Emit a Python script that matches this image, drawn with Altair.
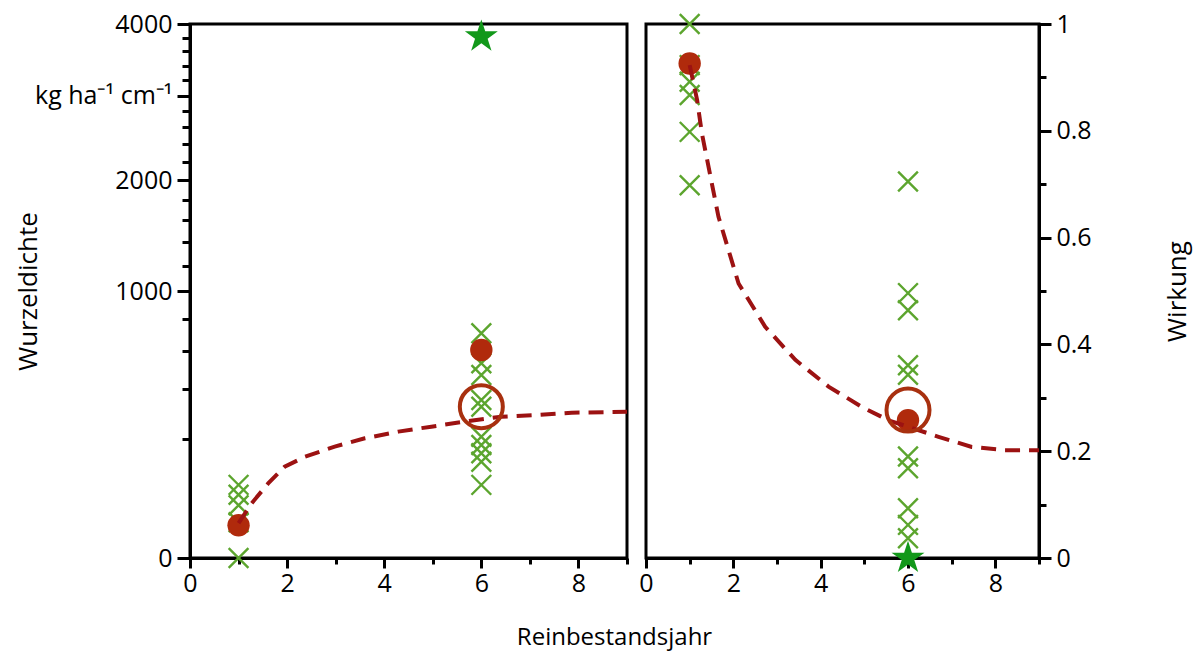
import altair as alt
import pandas as pd

FONT = "Open Sans"
GREEN_X = "#5ca52e"
GREEN_STAR = "#12981a"
RED_DOT = "#b02a0c"
RED_LINE = "#9c1212"
RED_CIRCLE = "#a8300f"

# ---------------- data: left panel (Wurzeldichte, kg ha-1 cm-1) ----------------
left_x_year = [1, 1, 1, 1, 1, 6, 6, 6, 6, 6, 6, 6, 6, 6, 6]
left_x_val = [0, 18, 39, 56, 75, 708, 532, 470, 350, 321, 206, 179, 154, 130, 75]
left_star_year = [6]
left_star_val = [3812]
left_dot_year = [1, 6]
left_dot_val = [15, 607]
left_circle_year = [6]
left_circle_val = [321]
left_curve_year = [1.0, 1.27, 1.61, 1.95, 2.37, 2.98, 3.60, 4.29, 4.97, 5.66, 6.41, 7.17, 7.86, 9.0]
left_curve_val = [17, 42, 78, 117, 144, 174, 201, 224, 242, 261, 280, 287, 296, 300]

# ---------------- data: right panel (Wirkung) ----------------
right_x_year = [1, 1, 1, 1, 1, 1, 6, 6, 6, 6, 6, 6, 6, 6, 6, 6]
right_x_val = [1.0, 0.923, 0.892, 0.867, 0.798, 0.698,
               0.705, 0.496, 0.464, 0.361, 0.343, 0.190, 0.168, 0.093, 0.062, 0.037]
right_star_year = [6]
right_star_val = [0.0]
right_dot_year = [1, 6]
right_dot_val = [0.926, 0.258]
right_circle_year = [6]
right_circle_val = [0.277]
right_curve_year = [1.0, 1.17, 1.28, 1.66, 2.12, 2.73, 3.42, 4.18, 4.94, 5.55, 6.70, 7.46, 8.21, 9.0]
right_curve_val = [0.923, 0.858, 0.795, 0.639, 0.514, 0.433, 0.371, 0.321, 0.283, 0.258, 0.227, 0.208, 0.202, 0.202]

# axis tick values
x_ticks = [0, 1, 2, 3, 4, 5, 6, 7, 8, 9]
yl_major_ticks = [0, 1000, 2000, 3000, 4000]
yl_minor_ticks = list(range(0, 4001, 200))
yr_ticks = [0, 0.1, 0.2, 0.3, 0.4, 0.5, 0.6, 0.7, 0.8, 0.9, 1]

W_L, W_R, H = 437, 393, 534
LABEL_FS = 25


def df(xs, ys):
    return pd.DataFrame({"year": xs, "v": ys})


X_SCALE = alt.Scale(domain=[0, 9], nice=False, zero=False)
YL_SCALE = alt.Scale(type="sqrt", domain=[0, 4000], nice=False)
YR_SCALE = alt.Scale(domain=[0, 1], nice=False)

common = dict(tickColor="black", domainColor="black", domainWidth=3, tickWidth=3,
              labelFontSize=LABEL_FS, labelColor="black", labelFont=FONT, grid=False,
              labelOverlap=False, labelFlush=False)
title_common = dict(titleFontWeight="normal", titleFont=FONT, titleColor="black")

x_tick_size = {"condition": {"test": "datum.value % 2 == 0", "value": 10}, "value": 6}
X_AXIS_L = alt.Axis(orient="bottom", values=x_ticks, tickSize=x_tick_size, labelPadding=3,
                    labelExpr="datum.value % 2 == 0 ? '' + datum.value : ''",
                    title="Reinbestandsjahr", titleFontSize=24, titleX=424, titleY=86,
                    titleBaseline="alphabetic", titleAlign="center", **title_common, **common)
X_AXIS_R = alt.Axis(orient="bottom", values=x_ticks, tickSize=x_tick_size, labelPadding=3,
                    labelExpr="datum.value % 2 == 0 ? '' + datum.value : ''",
                    title=None, **common)

Y_AXIS_L = alt.Axis(orient="left", values=yl_major_ticks, tickSize=13, labelPadding=5,
                    labelExpr="datum.value == 3000 ? 'kg ha⁻¹ cm⁻¹' : '' + datum.value",
                    title="Wurzeldichte", titleFontSize=26, titleX=-162, titleY=267,
                    titleAngle=270, titleBaseline="middle", titleAlign="center",
                    **title_common, **common)
Y_MINOR_L = alt.Axis(orient="left", values=yl_minor_ticks, tickSize=8, tickWidth=3,
                     tickColor="black", domain=False, labels=False, grid=False, title=None)

Y_AXIS_R = alt.Axis(orient="right", values=yr_ticks,
                    tickSize={"condition": {"test": "round(datum.value * 10) % 2 == 0", "value": 12}, "value": 7},
                    labelPadding=5,
                    labelExpr="round(datum.value * 10) % 2 == 0 ? format(datum.value, '~g') : ''",
                    title="Wirkung", titleFontSize=26, titleX=138, titleY=267,
                    titleAngle=270, titleBaseline="middle", titleAlign="center",
                    **title_common, **common)

XSHAPE = "M-1,-1L1,1M-1,1L1,-1"
STARSHAPE = ("M0,-1L0.225,-0.309L0.951,-0.309L0.363,0.118L0.588,0.809L0,0.382"
             "L-0.588,0.809L-0.363,0.118L-0.951,-0.309L-0.225,-0.309Z")


def panel(yscale, x_axis, y_axis, y_minor, xd, dotd, lined, circd, stard, width):
    other_y = alt.Undefined if y_minor is None else None
    xmark = alt.Chart(xd).mark_point(shape=XSHAPE, filled=False, size=390, strokeWidth=2.4,
                                     color=GREEN_X, opacity=1).encode(
        x=alt.X("year:Q", scale=X_SCALE, axis=x_axis),
        y=alt.Y("v:Q", scale=yscale, axis=y_axis),
    )
    dots = alt.Chart(dotd).mark_point(shape="circle", filled=True, size=500, color=RED_DOT,
                                      opacity=1).encode(
        x=alt.X("year:Q", scale=X_SCALE),
        y=alt.Y("v:Q", scale=yscale, axis=(y_minor if y_minor is not None else alt.Undefined)),
    )
    line = alt.Chart(lined).mark_line(color=RED_LINE, strokeWidth=4, strokeDash=[15, 9]).encode(
        x=alt.X("year:Q", scale=X_SCALE),
        y=alt.Y("v:Q", scale=yscale, axis=other_y),
    )
    circ = alt.Chart(circd).mark_point(shape="circle", filled=False, size=1850, strokeWidth=4,
                                       color=RED_CIRCLE, opacity=1).encode(
        x=alt.X("year:Q", scale=X_SCALE),
        y=alt.Y("v:Q", scale=yscale, axis=other_y),
    )
    star = alt.Chart(stard).mark_point(shape=STARSHAPE, filled=True, size=1200, color=GREEN_STAR,
                                       opacity=1, strokeWidth=0).encode(
        x=alt.X("year:Q", scale=X_SCALE),
        y=alt.Y("v:Q", scale=yscale, axis=other_y),
    )
    lay = alt.layer(xmark, dots, line, circ, star)
    if y_minor is not None:
        lay = lay.resolve_scale(y="shared").resolve_axis(y="independent")
    return lay.properties(width=width, height=H)


left = panel(YL_SCALE, X_AXIS_L, Y_AXIS_L, Y_MINOR_L,
             df(left_x_year, left_x_val), df(left_dot_year, left_dot_val),
             df(left_curve_year, left_curve_val), df(left_circle_year, left_circle_val),
             df(left_star_year, left_star_val), W_L)
right = panel(YR_SCALE, X_AXIS_R, Y_AXIS_R, None,
              df(right_x_year, right_x_val), df(right_dot_year, right_dot_val),
              df(right_curve_year, right_curve_val), df(right_circle_year, right_circle_val),
              df(right_star_year, right_star_val), W_R)

chart = alt.hconcat(left, right, spacing=19, bounds="flush").properties(
    padding={"left": 13, "top": 7, "right": 5, "bottom": 0},
    background="white",
).configure_view(stroke="black", strokeWidth=3).configure_axis(
    labelFont=FONT, titleFont=FONT, grid=False
)

chart.save("out.html", embed_options={"renderer": "svg", "actions": False})
